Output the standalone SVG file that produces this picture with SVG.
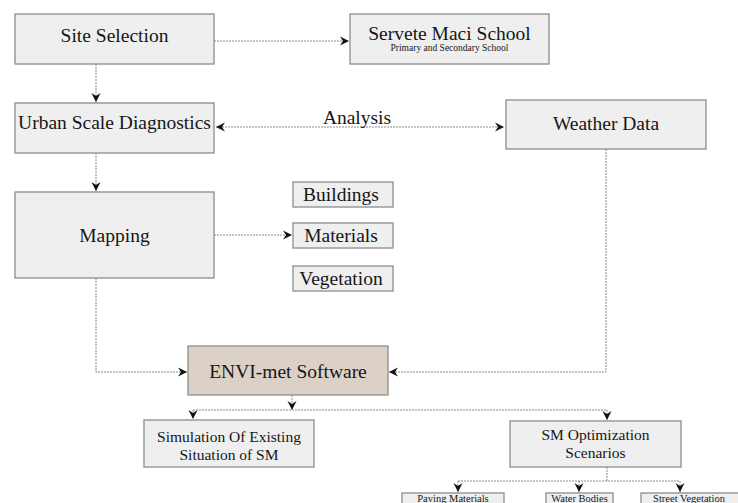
<svg xmlns="http://www.w3.org/2000/svg" width="738" height="503" viewBox="0 0 738 503">
<style>
.box{fill:#efefef;stroke:#8c8c8c;stroke-width:1.3}
.envi{fill:#dcd1c6;stroke:#8c8c8c;stroke-width:1.3}
.t{font-family:"Liberation Serif","Times New Roman",serif;fill:#161616;text-anchor:middle}
.big{font-size:19.5px}
.mid{font-size:15.5px}
.sm{font-size:10.5px}
.xs{font-size:9.5px}
.c{fill:none;stroke:#8a8a8a;stroke-width:1;stroke-dasharray:2,1}
.a{marker-end:url(#ah)}
</style>
<defs>
<marker id="ah" markerUnits="userSpaceOnUse" markerWidth="10" markerHeight="10" refX="9" refY="4.5" orient="auto-start-reverse" viewBox="0 0 10 9">
<path d="M0,0 L9,4.5 L0,9 L3,4.5 Z" fill="#111"/>
</marker>
</defs>
<g id="connectors">
<path class="c a" d="M214,41 H349"/>
<path class="c a" d="M96,64 V102"/>
<path class="c" d="M216,127 H504" marker-start="url(#ah)" marker-end="url(#ah)"/>
<path class="c a" d="M96,153 V191"/>
<path class="c a" d="M214,235 H292"/>
<path class="c a" d="M96,278 V372 H187"/>
<path class="c a" d="M606,149 V372 H389"/>
<path class="c a" d="M292,395 V410"/>
<path class="c" d="M193,410 H607"/>
<path class="c a" d="M193,410 V419"/>
<path class="c a" d="M607,410 V420"/>
<path class="c" d="M607,467 V481"/>
<path class="c" d="M458,481 H680"/>
<path class="c a" d="M458,481 V492"/>
<path class="c a" d="M579,481 V492"/>
<path class="c a" d="M680,481 V492"/>
</g>
<g id="site-selection">
<rect class="box" x="15" y="14" width="199" height="50"/>
<text class="t big" x="114.5" y="42">Site Selection</text>
</g>
<g id="servete-maci-school">
<rect class="box" x="350" y="14" width="199" height="50"/>
<text class="t big" x="449.5" y="40">Servete Maci School</text>
<text class="t xs" x="449.5" y="51">Primary and Secondary School</text>
</g>
<g id="urban-scale-diagnostics">
<rect class="box" x="15" y="103" width="199" height="50"/>
<text class="t big" x="114.5" y="129">Urban Scale Diagnostics</text>
</g>
<g id="analysis-label">
<text class="t big" x="357" y="124">Analysis</text>
</g>
<g id="weather-data">
<rect class="box" x="506" y="100" width="200" height="49"/>
<text class="t big" x="606" y="130">Weather Data</text>
</g>
<g id="mapping">
<rect class="box" x="15" y="192" width="199" height="86"/>
<text class="t big" x="114.5" y="242">Mapping</text>
</g>
<g id="buildings">
<rect class="box" x="293" y="182" width="100" height="25"/>
<text class="t big" x="341" y="201">Buildings</text>
</g>
<g id="materials">
<rect class="box" x="293" y="223" width="100" height="25"/>
<text class="t big" x="341" y="242">Materials</text>
</g>
<g id="vegetation">
<rect class="box" x="293" y="266" width="100" height="25"/>
<text class="t big" x="341" y="285">Vegetation</text>
</g>
<g id="envi-met">
<rect class="envi" x="188" y="346" width="200" height="49"/>
<text class="t big" x="288" y="378">ENVI-met Software</text>
</g>
<g id="simulation-existing">
<rect class="box" x="144" y="420" width="170" height="47"/>
<text class="t mid" x="229" y="442">Simulation Of Existing</text>
<text class="t mid" x="229" y="460">Situation of SM</text>
</g>
<g id="sm-optimization">
<rect class="box" x="510" y="421" width="171" height="46"/>
<text class="t mid" x="595.5" y="440">SM Optimization</text>
<text class="t mid" x="595.5" y="458">Scenarios</text>
</g>
<g id="paving-materials">
<rect class="box" x="402" y="493" width="102" height="14"/>
<text class="t sm" x="453" y="502">Paving Materials</text>
</g>
<g id="water-bodies">
<rect class="box" x="546" y="493" width="67" height="14"/>
<text class="t sm" x="579.5" y="502">Water Bodies</text>
</g>
<g id="street-vegetation">
<rect class="box" x="641" y="493" width="100" height="14"/>
<text class="t sm" x="689" y="502">Street Vegetation</text>
</g>
</svg>
